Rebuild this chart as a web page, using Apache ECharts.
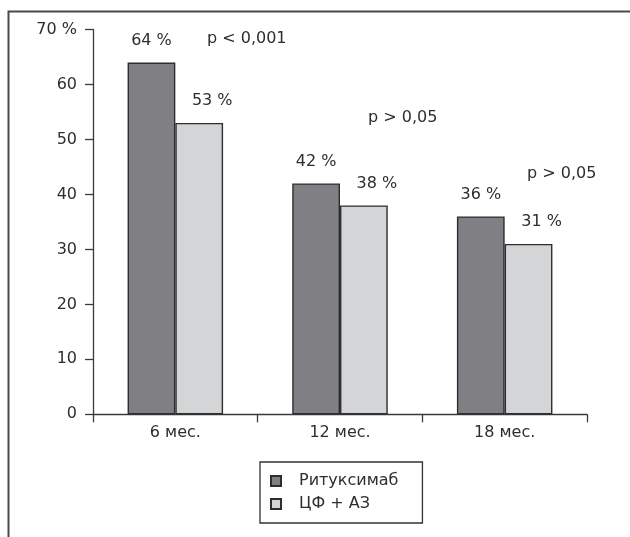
<!DOCTYPE html>
<html>
<head>
<meta charset="utf-8">
<script src="https://cdn.jsdelivr.net/npm/echarts@6/dist/echarts.min.js"></script>
<style>
  html, body { margin: 0; padding: 0; background: #fff; }
  #chart { width: 630px; height: 537px; }
</style>
</head>
<body>
<div id="chart"></div>
<script>
// Remission rates by follow-up time point, %
const categories = ['6 мес.', '12 мес.', '18 мес.'];
const rituximab = [64, 42, 36];
const cycloAza = [53, 38, 31];
const seriesNames = ['Ритуксимаб', 'ЦФ + АЗ'];
const yTicks = { min: 0, max: 70, interval: 10 };
const pLabels = ['p < 0,001', 'p > 0,05', 'p > 0,05'];

const FONT = 'DejaVu Sans';
const FS = 16;
const TEXT = '#2e2e2e';
const AXIS = '#3a3a3a';

const chart = echarts.init(document.getElementById('chart'), null, { renderer: 'canvas' });

const barStyle = (color) => ({ color: color, borderColor: '#2e2e2e', borderWidth: 1.4 });
const pText = (text, left, top) => ({
  type: 'text', left: left, top: top,
  style: { text: text, font: FS + 'px "' + FONT + '"', fill: TEXT }
});

chart.setOption({
  animation: false,
  backgroundColor: '#fff',
  textStyle: { fontFamily: FONT },
  grid: { left: 93, right: 43, top: 29.5, bottom: 122.7 },
  xAxis: {
    type: 'category',
    data: categories,
    axisLine: { lineStyle: { color: AXIS, width: 1.3 } },
    axisTick: { show: true, length: 8, lineStyle: { color: AXIS, width: 1.3 } },
    axisLabel: { color: TEXT, fontFamily: FONT, fontSize: FS, margin: 11 }
  },
  yAxis: {
    type: 'value',
    min: yTicks.min,
    max: yTicks.max,
    interval: yTicks.interval,
    axisLine: { show: true, lineStyle: { color: AXIS, width: 1.3 } },
    axisTick: { show: true, length: 8, lineStyle: { color: AXIS, width: 1.3 } },
    splitLine: { show: false },
    axisLabel: {
      color: TEXT, fontFamily: FONT, fontSize: FS, margin: 16,
      formatter: (v) => (v === yTicks.max ? v + ' %' : String(v))
    }
  },
  legend: {
    orient: 'vertical',
    left: 260,
    top: 462,
    padding: [10, 24, 10, 10],
    itemWidth: 10,
    itemHeight: 10,
    itemGap: 5,
    borderColor: '#333',
    borderWidth: 1.3,
    icon: 'rect',
    textStyle: { color: TEXT, fontFamily: FONT, fontSize: FS, lineHeight: 18, padding: [0, 0, 0, 13] },
    data: seriesNames
  },
  series: [
    {
      name: seriesNames[0],
      type: 'bar',
      data: rituximab,
      barGap: '0%',
      barCategoryGap: '42%',
      itemStyle: barStyle('#807f83'),
      label: {
        show: true, position: 'top', distance: 14,
        color: TEXT, fontFamily: FONT, fontSize: FS,
        formatter: '{c} %'
      }
    },
    {
      name: seriesNames[1],
      type: 'bar',
      data: cycloAza,
      itemStyle: barStyle('#d4d5d7'),
      label: {
        show: true, position: 'top', distance: 14, offset: [13, 0],
        color: TEXT, fontFamily: FONT, fontSize: FS,
        formatter: '{c} %'
      }
    }
  ],
  graphic: [
    // frame around the figure (left and top edges)
    {
      type: 'polyline',
      shape: { points: [[8.5, 537], [8.5, 11.5], [630, 11.5]] },
      style: { stroke: '#4a4a4a', lineWidth: 2, fill: null }
    },
    pText(pLabels[0], 207, 31),
    pText(pLabels[1], 368, 110),
    pText(pLabels[2], 527, 166)
  ]
});
</script>
</body>
</html>
